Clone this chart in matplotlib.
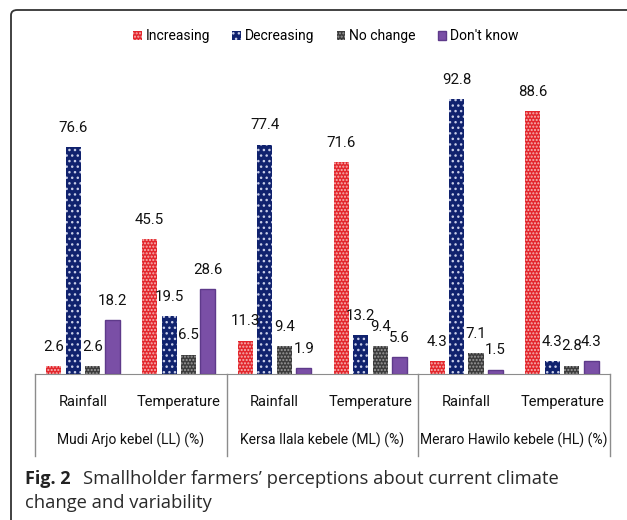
import matplotlib.pyplot as plt
import numpy as np
from matplotlib.patches import FancyBboxPatch

plt.rcParams['font.family'] = ['Roboto', 'DejaVu Sans']
plt.rcParams['hatch.linewidth'] = 1.0

crops = ['Rainfall', 'Temperature'] * 3
sites = ['Mudi Arjo kebel (LL) (%)', 'Kersa Ilala kebele (ML) (%)', 'Meraro Hawilo kebele (HL) (%)']
series = ['Increasing', 'Decreasing', 'No change', "Don't know"]
increasing = [2.6, 45.5, 11.3, 71.6, 4.3, 88.6]
decreasing = [76.6, 19.5, 77.4, 13.2, 92.8, 4.3]
no_change = [2.6, 6.5, 9.4, 9.4, 7.1, 2.8]
dont_know = [18.2, 28.6, 1.9, 5.6, 1.5, 4.3]

face = ['#e3262c', '#10226e', '#3c3c3c', '#7a4fa6']
hatch_col = ['#f6b5b5', '#c8cde8', '#9a9a9a', '#5e3a8a']
hatches = ['.....', '...', '.....', None]

W, H = 627, 520
fig = plt.figure(figsize=(W / 100, H / 100), dpi=100)
ax = fig.add_axes([35 / W, 1 - 374 / H, 575 / W, 314 / H])

x = np.arange(len(crops))
step = 0.203
width = 0.157
data = [increasing, decreasing, no_change, dont_know]
handles = []
for i, vals in enumerate(data):
    off = (i - 1.5) * step
    b = ax.bar(x + off, vals, width, color=face[i], edgecolor=hatch_col[i],
               linewidth=0 if hatches[i] else 1.0, hatch=hatches[i], label=series[i])
    handles.append(b)
    for xi, v in zip(x + off, vals):
        ax.text(xi, v + 6.5, f'{v}', ha='center', va='center', fontsize=10.8,
                color='#111111')

ax.set_xlim(-0.5, 5.5)
ax.set_ylim(0, 314 / 2.963)
for s in ['top', 'right', 'left']:
    ax.spines[s].set_visible(False)
ax.spines['bottom'].set_color('#8c8c8c')
ax.set_yticks([])
ax.set_xticks([])

tr = ax.get_xaxis_transform()
for sx in [-0.5, 1.5, 3.5, 5.5]:
    ax.plot([sx, sx], [0, -0.26], color='#8c8c8c', lw=1, transform=tr, clip_on=False)
for xi, c in zip(x, crops):
    ax.text(xi, -0.09, c, transform=tr, ha='center', va='center', fontsize=10.5,
            color='#111111')
for k, s in enumerate(sites):
    ax.text(2 * k + 0.5, -0.21, s, transform=tr, ha='center', va='center', fontsize=10,
            color='#111111')

fig.legend(handles=handles, labels=series, loc='center', bbox_to_anchor=(326 / W, 1 - 36 / H),
           ncol=4, frameon=False, fontsize=10, handlelength=0.6, handleheight=0.6,
           handletextpad=0.3, columnspacing=1.6)

# journal figure frame, only the top-left corner shows
frame = FancyBboxPatch((11 / W, -0.2), 1.2, 1 - 10 / H + 0.2,
                       boxstyle='round,pad=0,rounding_size=0.01',
                       transform=fig.transFigure, fill=False, edgecolor='#333333',
                       lw=1.3, clip_on=False)
fig.patches.append(frame)

fig.text(25 / W, 1 - 479 / H, 'Fig. 2', fontsize=13, fontweight='bold',
         family=['Open Sans', 'DejaVu Sans'], va='center', color='#222222')
fig.text(83 / W, 1 - 479 / H, 'Smallholder farmers\u2019 perceptions about current climate',
         fontsize=13.2, family=['Open Sans', 'DejaVu Sans'], va='center', color='#2a2a2a')
fig.text(25 / W, 1 - 503 / H, 'change and variability',
         fontsize=13.2, family=['Open Sans', 'DejaVu Sans'], va='center', color='#2a2a2a')

fig.savefig('out.png', dpi=100)
